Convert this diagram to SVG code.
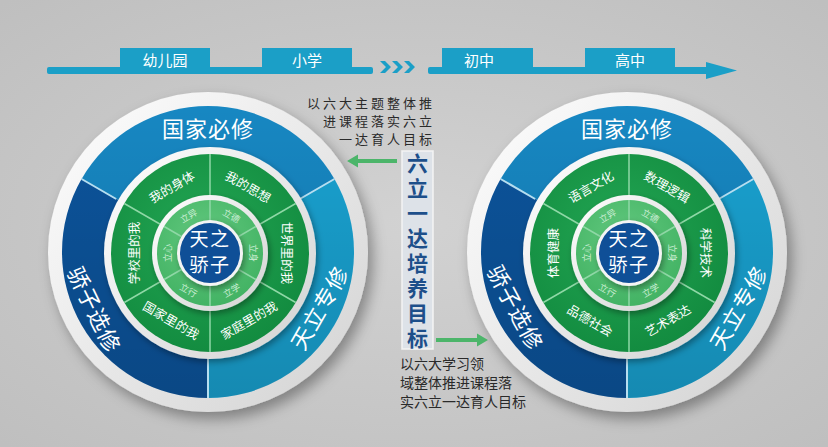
<svg xmlns="http://www.w3.org/2000/svg" xmlns:xlink="http://www.w3.org/1999/xlink" width="828" height="447" viewBox="0 0 828 447">
<style>
text{font-family:"Noto Sans CJK SC","Noto Sans",sans-serif}
.tab{fill:#1b9fc7}
.tabt{fill:#fff;font-size:15px;text-anchor:middle}
.bl{fill:#fff;font-size:22px;letter-spacing:1px;text-anchor:middle;dominant-baseline:central}
.gl{fill:#fff;font-size:12.5px;text-anchor:middle;dominant-baseline:central}
.il{fill:#cdeed6;font-size:9px;text-anchor:middle;dominant-baseline:central}
.ct{fill:#fff;font-size:19px;text-anchor:middle;letter-spacing:1.5px}
.note{fill:#2a2a2a;font-size:13px}
.goal{fill:#1d4f8a;font-size:21px;font-weight:bold;writing-mode:vertical-rl;letter-spacing:3.9px}
.bdiv{stroke:#b6def0;stroke-width:2;fill:none}
.gdiv{stroke:#8fd8a6;stroke-width:1.5;fill:none}
.arr{fill:#4cb56a}
</style>
<defs>
<radialGradient id="bg" cx="50%" cy="50%" r="70%">
<stop offset="0" stop-color="#d2d2d2"/><stop offset="1" stop-color="#bfbfbf"/>
</radialGradient>
<linearGradient id="wh" x1="0" y1="0" x2="1" y2="1">
<stop offset="0" stop-color="#ffffff"/><stop offset="1" stop-color="#d2d2d2"/>
</linearGradient>
<linearGradient id="shade" x1="0" y1="0" x2="0" y2="1">
<stop offset="0" stop-color="#000" stop-opacity="0"/><stop offset="1" stop-color="#000" stop-opacity="0.15"/>
</linearGradient>
<radialGradient id="gg" cx="45%" cy="40%" r="60%">
<stop offset="0" stop-color="#22a653"/><stop offset="1" stop-color="#138c40"/>
</radialGradient>
<radialGradient id="lg" cx="45%" cy="35%" r="65%">
<stop offset="0" stop-color="#62c87e"/><stop offset="1" stop-color="#43b364"/>
</radialGradient>
<filter id="sh" x="-20%" y="-20%" width="150%" height="150%">
<feDropShadow dx="5" dy="7" stdDeviation="7" flood-color="#000" flood-opacity="0.35"/>
</filter>
<filter id="sh2" x="-20%" y="-20%" width="150%" height="150%">
<feDropShadow dx="2" dy="3" stdDeviation="3" flood-color="#000" flood-opacity="0.35"/>
</filter>
<path id="w120" d="M0 0 L-126.44 -73 A146 146 0 0 1 126.44 -73 Z"/>
<path id="bdivs" class="bdiv" d="M-91.8 -53 L-126.4 -73 M91.8 -53 L126.4 -73 M0 106 L0 146"/>
<path id="gdivs" class="gdiv" d="M0 -58 L0 -99 M50.2 -29 L85.7 -49.5 M50.2 29 L85.7 49.5 M0 58 L0 99 M-50.2 29 L-85.7 49.5 M-50.2 -29 L-85.7 -49.5"/>
<path id="idivs" class="gdiv" d="M0 -33 L0 -53 M28.6 -16.5 L45.9 -26.5 M28.6 16.5 L45.9 26.5 M0 33 L0 53 M-28.6 16.5 L-45.9 26.5 M-28.6 -16.5 L-45.9 -26.5"/>
<g id="wheelBase">
<circle r="160" fill="url(#wh)" filter="url(#sh)"/>
<use href="#w120" fill="#1787c2"/>
<use href="#w120" transform="rotate(120)" fill="#19a2d1"/>
<use href="#w120" transform="rotate(240)" fill="#0c549c"/>
<circle r="146" fill="url(#shade)"/>
<use href="#bdivs"/>
<g transform="translate(2 1)">
<circle r="106" fill="url(#wh)" filter="url(#sh2)"/>
<circle r="99" fill="url(#gg)"/>
<use href="#gdivs"/>
<circle r="58" fill="url(#wh)" filter="url(#sh2)"/>
<circle r="53" fill="url(#lg)"/>
<use href="#idivs"/>
<circle r="33" fill="#f4f4f4" filter="url(#sh2)"/>
<circle r="30" fill="#0f4f97"/>
</g>
</g>
</defs>
<rect width="828" height="447" fill="url(#bg)"/>

<g id="timeline">
<rect x="47" y="67" width="326" height="7" rx="2" class="tab"/>
<rect x="120" y="48" width="90" height="22" class="tab"/>
<rect x="262" y="48" width="90" height="22" class="tab"/>
<text x="165" y="66" class="tabt">幼儿园</text>
<text x="307" y="66" class="tabt">小学</text>
<polygon class="tab" points="380,61 385,61 391,67 385,73 380,73 386,67"/>
<polygon class="tab" points="392,61 397,61 403,67 397,73 392,73 398,67"/>
<polygon class="tab" points="404,61 409,61 415,67 409,73 404,73 410,67"/>
<rect x="428" y="67" width="282" height="7" rx="2" class="tab"/>
<polygon class="tab" points="706,62 737,70.5 706,79"/>
<rect x="442" y="48" width="91" height="22" class="tab"/>
<rect x="585" y="48" width="90" height="22" class="tab"/>
<text x="479" y="66" class="tabt">初中</text>
<text x="630" y="66" class="tabt">高中</text>
</g>

<g id="left-wheel" transform="translate(208 252)">
<use href="#wheelBase"/>
<text class="bl" transform="translate(0 -125)">国家必修</text>
<text class="bl" transform="translate(-112 57) rotate(64)">骄子选修</text>
<text class="bl" transform="translate(110 55) rotate(-60)">天立专修</text>
<g transform="translate(2 1)">
<text class="gl" transform="translate(-38.5 -66.7) rotate(-30)">我的身体</text>
<text class="gl" transform="translate(38.5 -66.7) rotate(30)">我的思想</text>
<text class="gl" transform="translate(77 0) rotate(90)">世界里的我</text>
<text class="gl" transform="translate(38.5 66.7) rotate(-30)">家庭里的我</text>
<text class="gl" transform="translate(-38.5 66.7) rotate(30)">国家里的我</text>
<text class="gl" transform="translate(-77 0) rotate(-90)">学校里的我</text>
<text class="il" transform="translate(-21.5 -37.2) rotate(-30)">立异</text>
<text class="il" transform="translate(21.5 -37.2) rotate(30)">立德</text>
<text class="il" transform="translate(43 0) rotate(90)">立身</text>
<text class="il" transform="translate(21.5 37.2) rotate(-30)">立学</text>
<text class="il" transform="translate(-21.5 37.2) rotate(30)">立行</text>
<text class="il" transform="translate(-43 0) rotate(-90)">立心</text>
<text class="ct"><tspan x="0" y="-7">天之</tspan><tspan x="0" y="19">骄子</tspan></text>
</g>
</g>

<g id="right-wheel" transform="translate(627 252)">
<use href="#wheelBase"/>
<text class="bl" transform="translate(0 -125)">国家必修</text>
<text class="bl" transform="translate(-110 55) rotate(62)">骄子选修</text>
<text class="bl" transform="translate(110 55) rotate(-60)">天立专修</text>
<g transform="translate(2 1)">
<text class="gl" transform="translate(-38.5 -66.7) rotate(-30)">语言文化</text>
<text class="gl" transform="translate(38.5 -66.7) rotate(30)">数理逻辑</text>
<text class="gl" transform="translate(77 0) rotate(90)">科学技术</text>
<text class="gl" transform="translate(38.5 66.7) rotate(-30)">艺术表达</text>
<text class="gl" transform="translate(-38.5 66.7) rotate(30)">品德社会</text>
<text class="gl" transform="translate(-77 0) rotate(-90)">体育健康</text>
<text class="il" transform="translate(-21.5 -37.2) rotate(-30)">立异</text>
<text class="il" transform="translate(21.5 -37.2) rotate(30)">立德</text>
<text class="il" transform="translate(43 0) rotate(90)">立身</text>
<text class="il" transform="translate(21.5 37.2) rotate(-30)">立学</text>
<text class="il" transform="translate(-21.5 37.2) rotate(30)">立行</text>
<text class="il" transform="translate(-43 0) rotate(-90)">立心</text>
<text class="ct"><tspan x="0" y="-7">天之</tspan><tspan x="0" y="19">骄子</tspan></text>
</g>
</g>

<g id="top-note">
<text class="note" style="letter-spacing:3px" text-anchor="end" x="435" y="108">以六大主题整体推</text>
<text class="note" style="letter-spacing:3px" text-anchor="end" x="435" y="126">进课程落实六立</text>
<text class="note" style="letter-spacing:3px" text-anchor="end" x="435" y="144">一达育人目标</text>
</g>

<g id="goal-box">
<rect x="402" y="151" width="31" height="198" fill="#dde2e8" stroke="#f4f4f4" stroke-width="1.5"/>
<text class="goal" x="417.5" y="153">六立一达培养目标</text>
</g>

<g id="bottom-note">
<text class="note" style="font-size:14px" x="400" y="369">以六大学习领</text>
<text class="note" style="font-size:14px" x="400" y="388">域整体推进课程落</text>
<text class="note" style="font-size:14px" x="400" y="407">实六立一达育人目标</text>
</g>

<g id="connectors">
<polygon class="arr" points="347,161 358,154.5 358,159 397,159 397,163 358,163 358,167.5"/>
<polygon class="arr" points="488,340 477,333.5 477,338 436,338 436,342 477,342 477,346.5"/>
</g>
</svg>
